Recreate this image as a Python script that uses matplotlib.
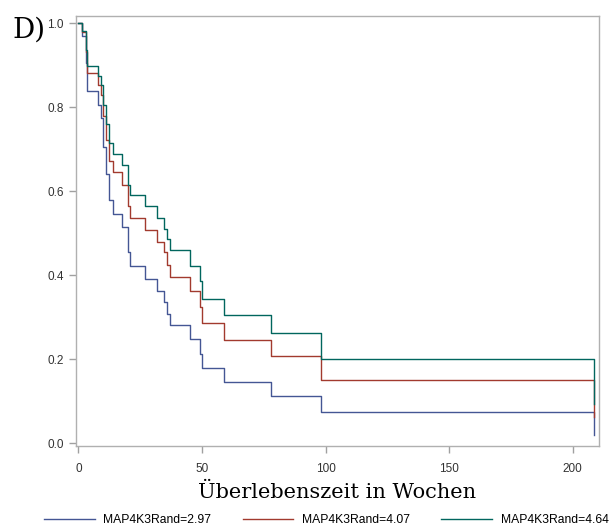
import matplotlib
matplotlib.use("Agg")
import matplotlib.pyplot as plt

# Step times (weeks) shared by the three predicted survival curves
times = [0, 1.4, 3.0, 3.5, 7.8, 9.1, 9.8, 11.1, 12.3, 14.1, 17.7, 20.2, 20.9,
         26.9, 31.8, 34.8, 35.9, 37.0, 45.1, 49.0, 50.2, 59.0, 78.1, 98.0, 208.8]

surv_297 = [1.0, 0.968, 0.905, 0.837, 0.804, 0.773, 0.706, 0.640, 0.578, 0.545,
            0.514, 0.455, 0.421, 0.390, 0.363, 0.336, 0.307, 0.280, 0.247, 0.212,
            0.179, 0.145, 0.113, 0.074, 0.019]
surv_407 = [1.0, 0.979, 0.932, 0.881, 0.853, 0.828, 0.778, 0.721, 0.672, 0.646,
            0.614, 0.564, 0.535, 0.507, 0.478, 0.455, 0.424, 0.396, 0.363, 0.324,
            0.285, 0.245, 0.208, 0.150, 0.062]
surv_464 = [1.0, 0.980, 0.936, 0.897, 0.875, 0.852, 0.805, 0.760, 0.714, 0.688,
            0.662, 0.614, 0.590, 0.564, 0.535, 0.509, 0.485, 0.459, 0.422, 0.387,
            0.344, 0.306, 0.263, 0.201, 0.094]

labels = ["MAP4K3Rand=2.97", "MAP4K3Rand=4.07", "MAP4K3Rand=4.64"]
colors = ["#445694", "#A23A2E", "#01665E"]

xticks = [0, 50, 100, 150, 200]
yticks = [0.0, 0.2, 0.4, 0.6, 0.8, 1.0]

sans = ["Liberation Sans", "DejaVu Sans"]

fig = plt.figure(figsize=(6.11, 5.31), dpi=100)
ax = fig.add_axes([76/611, 1 - 446/531, (599 - 76)/611, (446 - 16)/531])

for s, lab, c in zip([surv_297, surv_407, surv_464], labels, colors):
    ax.step(times, s, where="post", color=c, lw=1.0, label=lab)

ax.set_xlim(-1.0, 210.7)
ax.set_ylim(-0.007, 1.0167)
ax.set_xticks(xticks)
ax.set_xticklabels([str(t) for t in xticks], family=sans, fontsize=8.5, color="#333333")
ax.set_yticks(yticks)
ax.set_yticklabels([f"{v:.1f}" for v in yticks], family=sans, fontsize=8.5, color="#333333")
ax.tick_params(axis="both", direction="out", length=5, width=1, color="#a0a0a0", pad=4)
ax.tick_params(axis="x", pad=7)
for sp in ax.spines.values():
    sp.set_color("#b0b0b0")
    sp.set_linewidth(1.0)

ax.set_xlabel("Überlebenszeit in Wochen", family="DejaVu Serif", fontsize=15, labelpad=6)

fig.text(12/611, 1 - 38/531, "D)", family="DejaVu Serif", fontsize=20, ha="left", va="baseline")

fig.legend(loc="center", bbox_to_anchor=(0.534, 1 - 520/531), ncol=3, frameon=False,
           prop={"family": sans, "size": 8.7}, handlelength=4.2, columnspacing=2.6,
           handletextpad=0.7)

fig.savefig("out.png", dpi=100)
